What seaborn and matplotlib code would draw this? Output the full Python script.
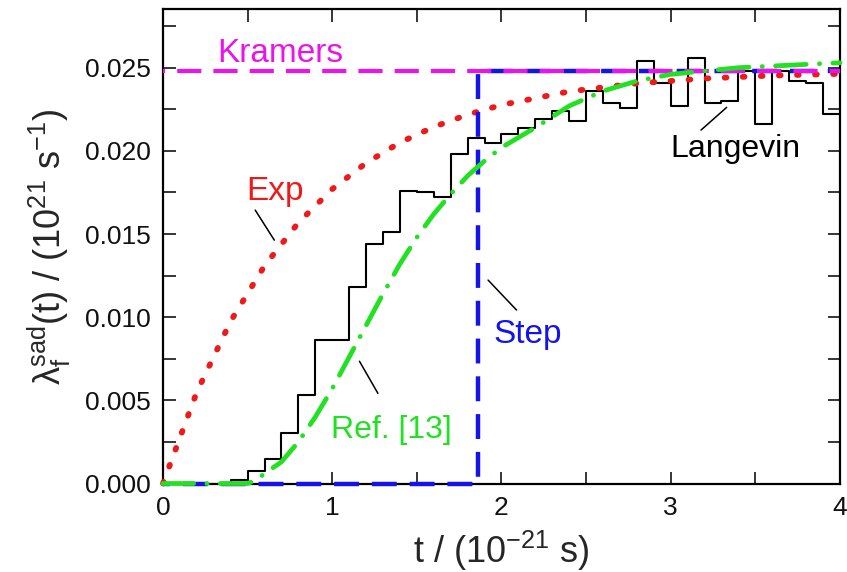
import numpy as np
import pandas as pd
import matplotlib
matplotlib.use("Agg")
import matplotlib.pyplot as plt
import seaborn as sns

# Langevin histogram: bin width 0.1 (10^-21 s), values per bin from t = 0 to 4
bin_edges = [round(0.1 * i, 1) for i in range(41)]
langevin = [0.0, 0.0, 0.0, 0.0, 0.0002, 0.00075, 0.0015, 0.00305, 0.0053, 0.0086,
            0.0086, 0.0118, 0.0144, 0.0151, 0.0176, 0.0175, 0.0172, 0.0198, 0.0208, 0.0205,
            0.0210, 0.0214, 0.0219, 0.0224, 0.0218, 0.0236, 0.0229, 0.0226, 0.0254, 0.0241,
            0.0227, 0.0256, 0.0229, 0.0230, 0.0248, 0.0216, 0.0248, 0.0242, 0.0241, 0.0222]

# Exponential approximation
exp_t = [0.0, 0.2, 0.4, 0.6, 0.8, 1.0, 1.2, 1.4, 1.6, 1.8, 2.0, 2.4, 2.8, 3.2, 3.6, 4.0]
exp_rate = [0.0, 0.0055, 0.00976, 0.01309, 0.01568, 0.0177, 0.01927, 0.0205, 0.02144,
            0.02218, 0.02276, 0.02357, 0.02406, 0.02435, 0.02453, 0.02463]

# Ref. [13] transient
ref_t = [0.0, 0.1, 0.5, 0.55, 0.6, 0.7, 0.8, 0.9, 1.0, 1.1, 1.2, 1.3, 1.4, 1.5, 1.6, 1.7,
         1.8, 1.9, 2.0, 2.2, 2.4, 2.6, 2.8, 3.0, 3.2, 3.4, 3.6, 3.8, 4.0]
ref_rate = [0.0, 0.0, 0.0, 0.0002, 0.0006, 0.0013, 0.0025, 0.0040, 0.0057, 0.0076, 0.0095,
            0.0114, 0.0132, 0.0148, 0.0162, 0.0174, 0.0185, 0.0194, 0.0202, 0.0214, 0.0227,
            0.0236, 0.0242, 0.0246, 0.0248, 0.0250, 0.0251, 0.0252, 0.0253]

# Kramers stationary rate and step-function switch-on time
kramers_rate = 0.0248
step_time = 1.86
t_max = 4.0

sns.set_theme(style="ticks")
plt.rcParams["font.family"] = ["Liberation Sans", "DejaVu Sans"]
plt.rcParams["mathtext.fontset"] = "custom"
plt.rcParams["mathtext.rm"] = "Liberation Sans"
plt.rcParams["mathtext.it"] = "Liberation Sans"

RED = "#ee1a1a"
GREEN = "#22e022"
BLUE = "#1414ea"
MAGENTA = "#ea14ea"

fig = plt.figure(figsize=(8.47, 5.72), dpi=100)
ax = fig.add_axes([0.1924, 0.1547, 0.7993, 0.8287])

# Langevin histogram as a step line
hist_df = pd.DataFrame({"t": bin_edges, "rate": langevin + [langevin[-1]]})
sns.lineplot(data=hist_df, x="t", y="rate", ax=ax, estimator=None, sort=False,
             drawstyle="steps-post", color="black", linewidth=1.5, zorder=3)

# Exponential approximation (dotted)
sns.lineplot(x=exp_t, y=exp_rate, ax=ax, estimator=None, color=RED, linewidth=4.2,
             linestyle=(0, (0.3, 2.8)), dash_capstyle="round", zorder=4, clip_on=False)

# Step function (dashed)
step_x = [0.0, step_time, step_time, t_max]
step_y = [0.0, 0.0, kramers_rate, kramers_rate]
sns.lineplot(x=step_x, y=step_y, ax=ax, estimator=None, sort=False, color=BLUE,
             linewidth=3.2, linestyle=(4.0, (5.6, 2.9)), dash_capstyle="butt",
             zorder=5, clip_on=False)

# Kramers limit (dashed)
sns.lineplot(x=[0.0, t_max], y=[kramers_rate, kramers_rate], ax=ax, estimator=None,
             color=MAGENTA, linewidth=3.0, linestyle=(5.3, (5.8, 2.9)),
             dash_capstyle="butt", zorder=6, clip_on=False)

# Ref. [13] (dash-dot)
sns.lineplot(x=ref_t, y=ref_rate, ax=ax, estimator=None, color=GREEN, linewidth=3.4,
             linestyle=(0, (6.5, 2.8, 0.05, 2.8)), dash_capstyle="round",
             zorder=7, clip_on=False)

ax.set_xlim(0, t_max)
ax.set_ylim(0, 0.0285)
ax.set_xticks([0, 1, 2, 3, 4])
ax.set_xticklabels(["0", "1", "2", "3", "4"])
ax.set_xticks(np.arange(0.5, 4.0, 1.0), minor=True)
ax.set_yticks(np.arange(0, 0.0251, 0.005))
ax.set_yticklabels([f"{v:.3f}" for v in np.arange(0, 0.0251, 0.005)])
ax.set_yticks(np.arange(0.0025, 0.0285, 0.005), minor=True)

ax.tick_params(which="both", direction="in", top=True, right=True,
               length=9, width=1.1, color="black")
ax.tick_params(which="major", labelsize=19, pad=9, labelcolor="#111111")
for s in ax.spines.values():
    s.set_linewidth(1.6)
    s.set_color("black")
    s.set_zorder(2)

ax.set_xlabel(r"t / (10$^{\mathregular{-21}}$ s)", fontsize=26, labelpad=6)
ax.set_ylabel(r"λ$_{\mathregular{f}}^{\mathregular{sad}}$(t) / (10$^{\mathregular{21}}$ s$^{\mathregular{-1}}$)",
              fontsize=26, labelpad=8)

# Curve labels with leader lines
ax.text(0.32, 0.02535, "Kramers", color=MAGENTA, fontsize=24)
ax.text(0.49, 0.01704, "Exp", color=RED, fontsize=24)
ax.text(0.99, 0.00272, "Ref. [13]", color=GREEN, fontsize=23)
ax.text(1.95, 0.00843, "Step", color=BLUE, fontsize=24)
ax.text(3.0, 0.01964, "Langevin", color="black", fontsize=23)

leader = dict(arrowstyle="-", color="black", linewidth=1.1, shrinkA=0, shrinkB=0)
ax.annotate("", xy=(0.658, 0.01463), xytext=(0.545, 0.01644), arrowprops=leader)
ax.annotate("", xy=(1.27, 0.00542), xytext=(1.161, 0.00735), arrowprops=leader)
ax.annotate("", xy=(2.089, 0.01043), xytext=(1.921, 0.01223), arrowprops=leader)
ax.annotate("", xy=(3.33, 0.02261), xytext=(3.179, 0.02125), arrowprops=leader)

fig.savefig("out.png", dpi=100, facecolor="white")
